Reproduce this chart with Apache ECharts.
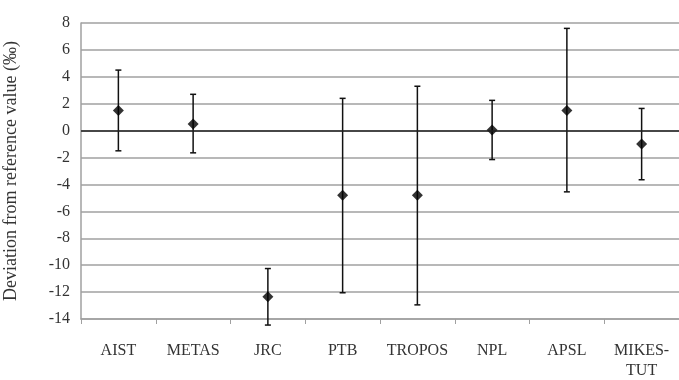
<!DOCTYPE html>
<html>
<head>
<meta charset="utf-8">
<script src="https://cdn.jsdelivr.net/npm/echarts@6/dist/echarts.min.js"></script>
<style>
  html, body { margin: 0; padding: 0; background: #fff; }
  #main { width: 679px; height: 380px; }
</style>
</head>
<body>
<div id="main"></div>
<script>
// laboratories
const labs = ['AIST', 'METAS', 'JRC', 'PTB', 'TROPOS', 'NPL', 'APSL', 'MIKES-\nTUT'];
// deviation from reference value (‰)
const deviation = [1.5, 0.5, -12.35, -4.8, -4.8, 0.05, 1.5, -1.0];
// error bar ends
const upper = [4.5, 2.7, -10.25, 2.4, 3.3, 2.25, 7.6, 1.65];
const lower = [-1.5, -1.65, -14.45, -12.05, -12.95, -2.15, -4.55, -3.65];

const errData = labs.map((l, i) => [i, lower[i], upper[i]]);

const chart = echarts.init(document.getElementById('main'));
const serif = 'Liberation Serif, Times New Roman, serif';

chart.setOption({
  animation: false,
  grid: { left: 81, right: 0, top: 23, bottom: 61, outerBoundsMode: 'none' },
  xAxis: {
    type: 'category',
    data: labs,
    boundaryGap: true,
    axisLine: { onZero: false, lineStyle: { color: '#a0a0a0', width: 1.5 } },
    axisTick: { show: true, length: 5, lineStyle: { color: '#a0a0a0' } },
    axisLabel: {
      color: '#333', fontFamily: serif, fontSize: 16,
      margin: 22, lineHeight: 20, interval: 0
    }
  },
  yAxis: {
    type: 'value',
    min: -14, max: 8, interval: 2,
    name: 'Deviation from reference value (‰)',
    nameLocation: 'middle',
    nameGap: 61,
    nameTextStyle: { color: '#333', fontFamily: serif, fontSize: 18 },
    axisLine: { show: true, lineStyle: { color: '#a0a0a0', width: 1.5 } },
    axisTick: { show: false },
    axisLabel: { color: '#333', fontFamily: serif, fontSize: 16, margin: 11 },
    splitLine: { lineStyle: { color: '#a0a0a0', width: 1.5 } }
  },
  series: [
    {
      type: 'custom',
      clip: false,
      z: 3,
      data: errData,
      renderItem: function (params, api) {
        const x = api.value(0);
        const lo = api.coord([x, api.value(1)]);
        const hi = api.coord([x, api.value(2)]);
        const cap = 3;
        const style = { stroke: '#111', lineWidth: 1.5 };
        return {
          type: 'group',
          children: [
            { type: 'line', shape: { x1: hi[0], y1: hi[1], x2: lo[0], y2: lo[1] }, style: style },
            { type: 'line', shape: { x1: hi[0] - cap, y1: hi[1], x2: hi[0] + cap, y2: hi[1] }, style: style },
            { type: 'line', shape: { x1: lo[0] - cap, y1: lo[1], x2: lo[0] + cap, y2: lo[1] }, style: style }
          ]
        };
      }
    },
    {
      type: 'scatter',
      z: 4,
      data: deviation,
      symbol: 'diamond',
      symbolSize: [11, 11],
      itemStyle: { color: '#000' },
      markLine: {
        silent: true,
        symbol: 'none',
        label: { show: false },
        lineStyle: { color: '#222', width: 1.5, type: 'solid' },
        data: [{ yAxis: 0 }]
      }
    }
  ]
});
</script>
</body>
</html>
